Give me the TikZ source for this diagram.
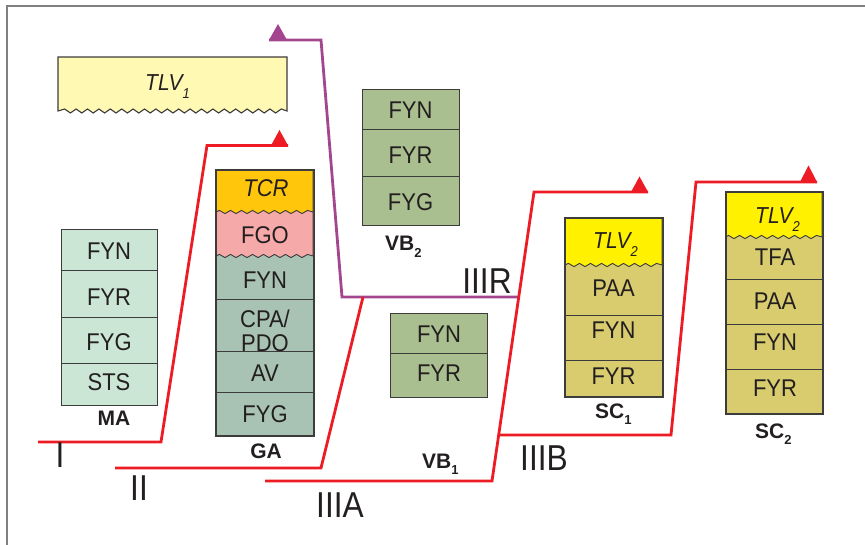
\documentclass[tikz,border=0pt]{standalone}
\usepackage{fontspec}
\setmainfont{Liberation Sans}
\usepackage{graphicx}
\usetikzlibrary{calc}
\definecolor{frameC}{HTML}{808080}
\definecolor{redC}{HTML}{ED1C24}
\definecolor{purpC}{HTML}{A3468F}
\definecolor{bord}{HTML}{3C3C3C}
\definecolor{txt}{HTML}{231F20}
\definecolor{maC}{HTML}{CCE6D5}
\definecolor{gaC}{HTML}{A8C3B3}
\definecolor{tcrC}{HTML}{FFC60B}
\definecolor{fgoC}{HTML}{F6A9A9}
\definecolor{vbC}{HTML}{AABF8F}
\definecolor{scC}{HTML}{D8CC6E}
\definecolor{yelC}{HTML}{FFF100}
\definecolor{tlvC}{HTML}{FFF9B4}
\newcommand{\vs}[1]{\scalebox{1}[1.1]{#1}}
\newcommand{\sbs}[1]{\raisebox{-0.32em}{\scalebox{0.62}{#1}}}
\newcommand{\rn}[1]{\scalebox{0.88}[1]{#1}}
\begin{document}
\begin{tikzpicture}[x=1pt,y=-1pt,
  box/.style={draw=bord,line width=1.1pt,inner sep=0pt,anchor=north west},
  boxline/.style={draw=bord,line width=1.1pt},
  divider/.style={draw=bord,line width=0.9pt},
  wavebox/.style={draw=bord,line width=0.9pt,line join=miter},
  lbl/.style={font=\fontsize{22}{25}\selectfont,text=txt,inner sep=0pt},
  ilbl/.style={font=\fontsize{21}{24}\selectfont\itshape,text=txt,inner sep=0pt,anchor=base west},
  blbl/.style={font=\fontsize{21}{24}\selectfont\bfseries,text=txt,inner sep=0pt},
  roman/.style={font=\fontsize{36}{40}\selectfont,text=txt,inner sep=0pt},
  redline/.style={draw=redC,line width=2.8pt,line join=miter},
  purpline/.style={draw=purpC,line width=2.8pt,line join=miter},
]
\useasboundingbox (0,0) rectangle (865,545);

% frame
\draw[frameC,line width=2pt] (7,545) -- (7,6) -- (865,6);

% TLV1 box
\filldraw[fill=tlvC,draw=bord,line width=1.1pt]
  (58,111) -- (58,57) -- (287,57) -- (287,111)
  \foreach \k in {1,...,39} { -- ({287-5.7*\k},{111+2*cos(180*\k)}) } -- cycle;
\node[ilbl] (tlv1) at (145,91) {\vs{TLV\sbs{1}}};

% MA
\node[box,fill=maC,minimum width=96pt,minimum height=176pt] (MA) at (61,229) {};
\draw[divider] (61,270) -- (157,270);
\draw[divider] (61,317) -- (157,317);
\draw[divider] (61,363) -- (157,363);
\node[lbl] (ma1) at (109,250.8) {\vs{FYN}};
\node[lbl] (ma2) at (109,296.7) {\vs{FYR}};
\node[lbl] (ma3) at (109,342.5) {\vs{FYG}};
\node[lbl] (ma4) at (109,382.5) {\vs{STS}};
\node[blbl] (MAl) at (114,418) {MA};

% GA
\node[box,fill=gaC,minimum width=97pt,minimum height=265pt] (GA) at (216,170) {};
\filldraw[fill=fgoC,wavebox] (216,256) -- (216,200) -- (313,200) -- (313,256)
  \foreach \k in {1,...,17} { -- ({313-5.5*\k},{256+1.6*cos(180*\k)}) } -- cycle;
\filldraw[fill=tcrC,wavebox] (216,212) -- (216,170) -- (313,170) -- (313,212)
  \foreach \k in {1,...,17} { -- ({313-5.5*\k},{212+1.6*cos(180*\k)}) } -- cycle;
\draw[boxline] (GA.north west) rectangle (GA.south east);
\draw[divider] (216,299) -- (313,299);
\draw[divider] (216,351) -- (313,351);
\draw[divider] (216,392) -- (313,392);
\node[lbl,font=\fontsize{22}{25}\selectfont\itshape] (ga0) at (266,188) {\vs{TCR}};
\node[lbl] (ga1) at (265,235) {\vs{FGO}};
\node[lbl] (ga2) at (265,280.5) {\vs{FYN}};
\node[lbl,align=center] (ga3) at (265,330.5) {\vs{CPA/}\\[-1pt]\vs{PDO}};
\node[lbl] (ga4) at (265,373.5) {\vs{AV}};
\node[lbl] (ga5) at (265,414) {\vs{FYG}};
\node[blbl] (GAl) at (266,451) {GA};

% VB2
\node[box,fill=vbC,minimum width=97pt,minimum height=136pt] (VB2) at (362,89) {};
\draw[divider] (362,129) -- (459,129);
\draw[divider] (362,176) -- (459,176);
\node[lbl] (vb21) at (410.5,110.5) {\vs{FYN}};
\node[lbl] (vb22) at (410.5,155) {\vs{FYR}};
\node[lbl] (vb23) at (410.5,202) {\vs{FYG}};
\node[blbl,anchor=base west] (VB2l) at (385,251) {VB\sbs{2}};

% VB1
\node[box,fill=vbC,minimum width=97pt,minimum height=84pt] (VB1) at (390,313) {};
\draw[divider] (390,353) -- (487,353);
\node[lbl] (vb11) at (439,334) {\vs{FYN}};
\node[lbl] (vb12) at (439,373.5) {\vs{FYR}};
\node[blbl,anchor=base west] (VB1l) at (422,468) {VB\sbs{1}};

% SC1
\node[box,fill=scC,minimum width=97pt,minimum height=178pt] (SC1) at (565,218) {};
\filldraw[fill=yelC,wavebox] (565,265) -- (565,218) -- (662,218) -- (662,265)
  \foreach \k in {1,...,17} { -- ({662-5.5*\k},{265+1.6*cos(180*\k)}) } -- cycle;
\draw[boxline] (SC1.north west) rectangle (SC1.south east);
\draw[divider] (565,315) -- (662,315);
\draw[divider] (565,360) -- (662,360);
\node[ilbl] (sc10) at (593,249) {\vs{TLV\sbs{2}}};
\node[lbl] (sc11) at (613.5,288.5) {\vs{PAA}};
\node[lbl] (sc12) at (613.5,330.5) {\vs{FYN}};
\node[lbl] (sc13) at (613.5,376.5) {\vs{FYR}};
\node[blbl,anchor=base west] (SC1l) at (595,418) {SC\sbs{1}};

% SC2
\node[box,fill=scC,minimum width=96pt,minimum height=221pt] (SC2) at (726,192) {};
\filldraw[fill=yelC,wavebox] (726,237) -- (726,192) -- (822,192) -- (822,237)
  \foreach \k in {1,...,17} { -- ({822-5.5*\k},{237+1.6*cos(180*\k)}) } -- cycle;
\draw[boxline] (SC2.north west) rectangle (SC2.south east);
\draw[divider] (726,279) -- (822,279);
\draw[divider] (726,324) -- (822,324);
\draw[divider] (726,369) -- (822,369);
\node[ilbl] (sc20) at (755,224) {\vs{TLV\sbs{2}}};
\node[lbl] (sc21) at (775,257.5) {\vs{TFA}};
\node[lbl] (sc22) at (775,301) {\vs{PAA}};
\node[lbl] (sc23) at (775,342.5) {\vs{FYN}};
\node[lbl] (sc24) at (775,388) {\vs{FYR}};
\node[blbl,anchor=base west] (SC2l) at (755,438) {SC\sbs{2}};

% path coordinates
\coordinate (I0) at (38,442);
\coordinate (I1) at (161,442);
\coordinate (I2) at (207,145.5);
\coordinate (I3) at (288,145.5);
\coordinate (II0) at (115,468);
\coordinate (II1) at (321,468);
\coordinate (II2) at (363,297);
\coordinate (A0) at (265,481);
\coordinate (A1) at (492,481);
\coordinate (A2) at (534,192);
\coordinate (A3) at (648,192);
\coordinate (B0) at (498.7,435);
\coordinate (B1) at (671,435);
\coordinate (B2) at (696,182);
\coordinate (B3) at (817,182);
\coordinate (R0) at (518.7,297);
\coordinate (R1) at (342,297);
\coordinate (R2) at (321,40);
\coordinate (R3) at (269,40);

% purple path IIIR
\draw[purpline] (R0) -- (R1) -- (R2) -- (R3);
\fill[purpC] (R3) -- ($(R3)+(18,0)$) -- ($(R3)+(9,-16)$) -- cycle;

% red paths
\draw[redline] (I0) -- (I1) -- (I2) -- (I3);
\fill[redC] (I3) -- ($(I3)+(-17,0)$) -- ($(I3)+(-8.5,-15.5)$) -- cycle;
\draw[redline] (II0) -- (II1) -- (II2);
\draw[redline] (A0) -- (A1) -- (A2) -- (A3);
\fill[redC] (A3) -- ($(A3)+(-17,0)$) -- ($(A3)+(-8.5,-15.5)$) -- cycle;
\draw[redline] (B0) -- (B1) -- (B2) -- (B3);
\fill[redC] (B3) -- ($(B3)+(-17,0)$) -- ($(B3)+(-8.5,-16.5)$) -- cycle;

% roman labels
\node[roman] (rI) at (60,455) {\rn{I}};
\node[roman] (rII) at (139,488) {\rn{II}};
\node[roman] (rIIIA) at (340,505) {\rn{IIIA}};
\node[roman] (rIIIB) at (544,458) {\rn{IIIB}};
\node[roman] (rIIIR) at (487,281) {\rn{IIIR}};
\end{tikzpicture}
\end{document}
